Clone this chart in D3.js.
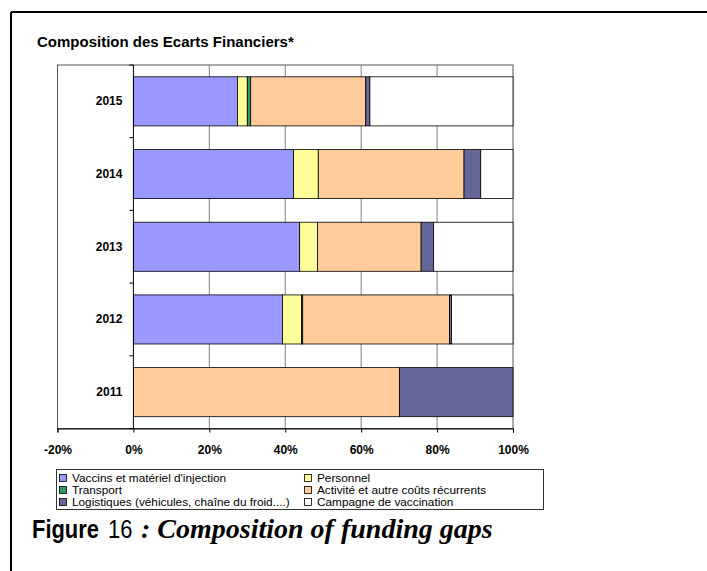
<!DOCTYPE html>
<html><head><meta charset="utf-8">
<script src="https://cdn.jsdelivr.net/npm/d3@7"></script>
<style>
body{margin:0;background:#fff;}
svg{display:block;}
</style></head>
<body>
<script>
const years = ["2015","2014","2013","2012","2011"];
const seriesNames = ["Vaccins et matériel d'injection","Personnel","Transport","Activité et autre coûts récurrents","Logistiques (véhicules, chaîne du froid....)","Campagne de vaccination"];
const vaccins    = [0.274, 0.422, 0.438, 0.393, 0.000];
const personnel  = [0.026, 0.065, 0.047, 0.050, 0.000];
const transport  = [0.009, 0.000, 0.000, 0.003, 0.000];
const activite   = [0.303, 0.384, 0.273, 0.387, 0.701];
const logistique = [0.011, 0.044, 0.033, 0.005, 0.299];
const campagne   = [0.377, 0.085, 0.209, 0.162, 0.000];
const xTicks = [-0.2, 0, 0.2, 0.4, 0.6, 0.8, 1.0];
const xTickLabels = ["-20%","0%","20%","40%","60%","80%","100%"];
const colors = ["#9999FF","#FFFF99","#339966","#FFCC99","#666699","#FFFFFF"];

const seriesValues = [vaccins, personnel, transport, activite, logistique, campagne];
const W = 707, H = 571;
const svg = d3.select("body").append("svg").attr("width", W).attr("height", H);
const SANS = "Liberation Sans, Arial, sans-serif";

// outer frame
svg.append("line").attr("x1",11).attr("x2",W+5).attr("y1",12).attr("y2",12).attr("stroke","#000").attr("stroke-width",2);
svg.append("line").attr("x1",11).attr("x2",11).attr("y1",12).attr("y2",H+5).attr("stroke","#000").attr("stroke-width",2);

svg.append("text").attr("x",37).attr("y",46.5)
  .style("font-family",SANS).style("font-weight","bold").style("font-size","15px")
  .text("Composition des Ecarts Financiers*");

const pl = 57.5, pr = 513, pt = 65, pb = 428.5;
const x = d3.scaleLinear().domain([-0.2, 1.0]).range([pl, pr]);
const y = d3.scaleBand().domain(years).range([pt, pb]).paddingInner(0.325).paddingOuter(0.1625);

// plot border
svg.append("rect").attr("x",pl).attr("y",pt).attr("width",pr-pl).attr("height",pb-pt)
  .attr("fill","none").attr("stroke","#555").attr("stroke-width",1);

// gridlines
svg.append("g").selectAll("line").data(xTicks.filter(d=>d>0 && d<1)).join("line")
  .attr("x1",d=>x(d)).attr("x2",d=>x(d)).attr("y1",pt).attr("y2",pb)
  .attr("stroke","#808080").attr("stroke-width",1);

// stacked bars
const rows = years.map((yr,i)=>{ const o={year:yr}; seriesNames.forEach((s,j)=>o[s]=seriesValues[j][i]); return o; });
const stack = d3.stack().keys(seriesNames)(rows);
const gBars = svg.append("g");
stack.forEach((layer,j)=>{
  gBars.append("g").selectAll("rect").data(layer.filter(d=>d[1]-d[0]>0)).join("rect")
    .attr("x",d=>x(d[0])).attr("width",d=>x(d[1])-x(d[0]))
    .attr("y",d=>y(d.data.year)).attr("height",y.bandwidth())
    .attr("fill",colors[j]).attr("stroke","#000").attr("stroke-width",0.8);
});

// category axis at 0
const yAxis = d3.axisLeft(y).tickSize(0).tickPadding(11);
const gy = svg.append("g").attr("transform",`translate(${x(0)},0)`).call(yAxis);
gy.select(".domain").remove();
gy.selectAll("text").style("font-family",SANS).style("font-weight","bold").style("font-size","12px");
svg.append("line").attr("x1",x(0)).attr("x2",x(0)).attr("y1",pt).attr("y2",pb).attr("stroke","#000").attr("stroke-width",1);
const step = y.step();
svg.append("g").selectAll("line").data(d3.range(years.length+1)).join("line")
  .attr("x1",x(0)-4).attr("x2",x(0)).attr("y1",i=>pt+i*step).attr("y2",i=>pt+i*step)
  .attr("stroke","#000").attr("stroke-width",1);

// value axis
const xAxis = d3.axisBottom(x).tickValues(xTicks).tickFormat((d,i)=>xTickLabels[i]).tickSizeOuter(0).tickSize(4).tickPadding(13);
const gx = svg.append("g").attr("transform",`translate(0,${pb})`).call(xAxis);
gx.select(".domain").attr("stroke","#000");
gx.selectAll(".tick line").attr("stroke","#000");
gx.selectAll("text").style("font-family",SANS).style("font-weight","bold").style("font-size","12px").attr("fill","#000");

// legend
svg.append("rect").attr("x",56.5).attr("y",469.5).attr("width",487).attr("height",40)
  .attr("fill","#fff").attr("stroke","#333").attr("stroke-width",1);
const legPos = [[59,478],[304,478],[59,490],[304,490],[59,502],[304,502]];
const lg = svg.append("g").selectAll("g").data(seriesNames).join("g")
  .attr("transform",(d,i)=>`translate(${legPos[i][0]},${legPos[i][1]})`);
lg.append("rect").attr("x",0.5).attr("y",-3.5).attr("width",7).attr("height",7)
  .attr("fill",(d,i)=>colors[i]).attr("stroke","#000").attr("stroke-width",0.8);
lg.append("text").attr("x",13).attr("y",4.2).text(d=>d)
  .style("font-family",SANS).style("font-size","11.8px");

// caption
svg.append("text").attr("transform","translate(32,538) scale(0.86,1)")
  .style("font-family",SANS).style("font-size","25.5px").style("font-weight","bold").text("Figure");
svg.append("text").attr("transform","translate(108,538) scale(0.86,1)")
  .style("font-family",SANS).style("font-size","25.5px").text("16");
svg.append("text").attr("x",141).attr("y",538)
  .style("font-family","Liberation Serif, Times New Roman, serif").style("font-weight","bold").style("font-style","italic").style("font-size","28px")
  .text(": Composition of funding gaps");
</script>
</body></html>
